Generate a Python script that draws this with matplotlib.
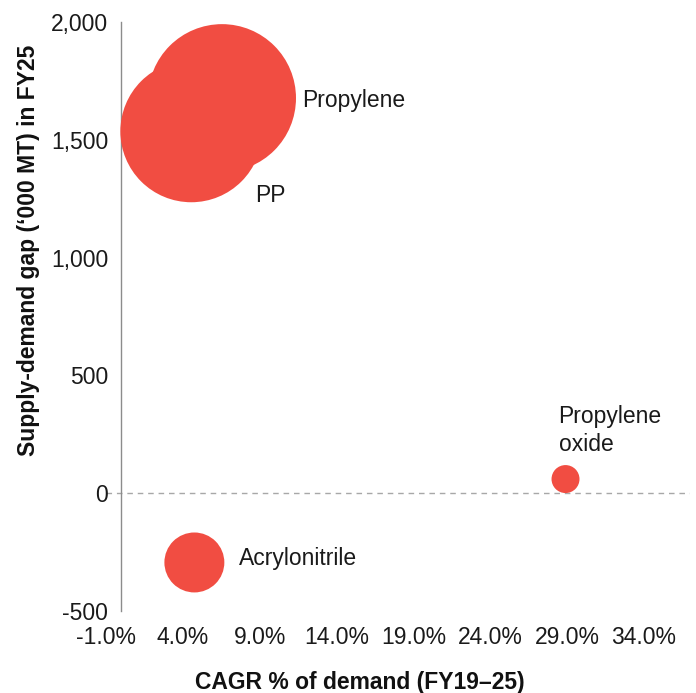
import matplotlib

matplotlib.use("Agg")
import matplotlib.pyplot as plt
from matplotlib.ticker import FixedLocator

plt.rcParams["font.family"] = ["Liberation Sans", "DejaVu Sans"]

# ============================================================
# Data
# ============================================================
products = ["Propylene", "PP", "Propylene\noxide", "Acrylonitrile"]
cagr = [6.55, 4.55, 28.9, 4.75]            # CAGR % of demand FY19-25
gap = [1677, 1536, 60, -294]               # supply-demand gap ('000 MT) FY25
bubble_value = [5480, 5040, 196, 900]      # bubble size (relative)

x_ticks = [-1, 4, 9, 14, 19, 24, 29, 34]
x_labels = ["-1.0%", "4.0%", "9.0%", "14.0%", "19.0%", "24.0%", "29.0%", "34.0%"]
y_ticks = [-500, 0, 500, 1000, 1500, 2000]
y_labels = ["-500", "0", "500", "1,000", "1,500", "2,000"]

# label offsets in points relative to the bubble centre
label_offsets = [(58, -2), (46, -46), (-5, 35), (32, 3)]

RED = "#F14D42"
GREY = "#8c8c8c"

# ============================================================
# Plot
# ============================================================
figure = plt.figure(figsize=(6.96, 6.93), dpi=100)
axis = figure.add_axes([106 / 696, 1 - 611 / 693, 584 / 696, 589 / 693])

sizes = [v * 2.07 for v in bubble_value]
axis.scatter(cagr, gap, s=sizes, color=RED, edgecolors="none", zorder=3, clip_on=False)

axis.axhline(0, color="#a8a8a8", linewidth=1, linestyle=(0, (4, 3.5)), zorder=1)

for name, x, y, offset in zip(products, cagr, gap, label_offsets):
    axis.annotate(name, (x, y), xytext=offset, textcoords="offset points",
                  ha="left", va="center", fontsize=16.5, color="#1a1a1a", linespacing=1.3)

axis.set_xlim(-1, 37)
axis.set_ylim(-500, 2000)
axis.xaxis.set_major_locator(FixedLocator(x_ticks))
axis.set_xticklabels(x_labels)
axis.yaxis.set_major_locator(FixedLocator(y_ticks))
axis.set_yticklabels(y_labels)
axis.tick_params(axis="both", length=0, labelsize=16.5, colors="#1a1a1a")
axis.tick_params(axis="y", pad=9.5)
axis.tick_params(axis="x", pad=11)

for side in ["top", "right", "bottom"]:
    axis.spines[side].set_visible(False)
axis.spines["left"].set_position(("data", 0))
axis.spines["left"].set_color(GREY)
axis.spines["left"].set_linewidth(1)

figure.text(360 / 696, 1 - 689 / 693, "CAGR % of demand (FY19\u201325)",
            ha="center", va="baseline", fontsize=16.5, fontweight="bold", color="#111111")
figure.text(29 / 696, 1 - 250 / 693, "Supply-demand gap (\u2018000 MT) in FY25",
            ha="center", va="center", rotation=90, fontsize=16.5, fontweight="bold",
            color="#111111")

figure.savefig("out.png", dpi=100)
plt.close(figure)
